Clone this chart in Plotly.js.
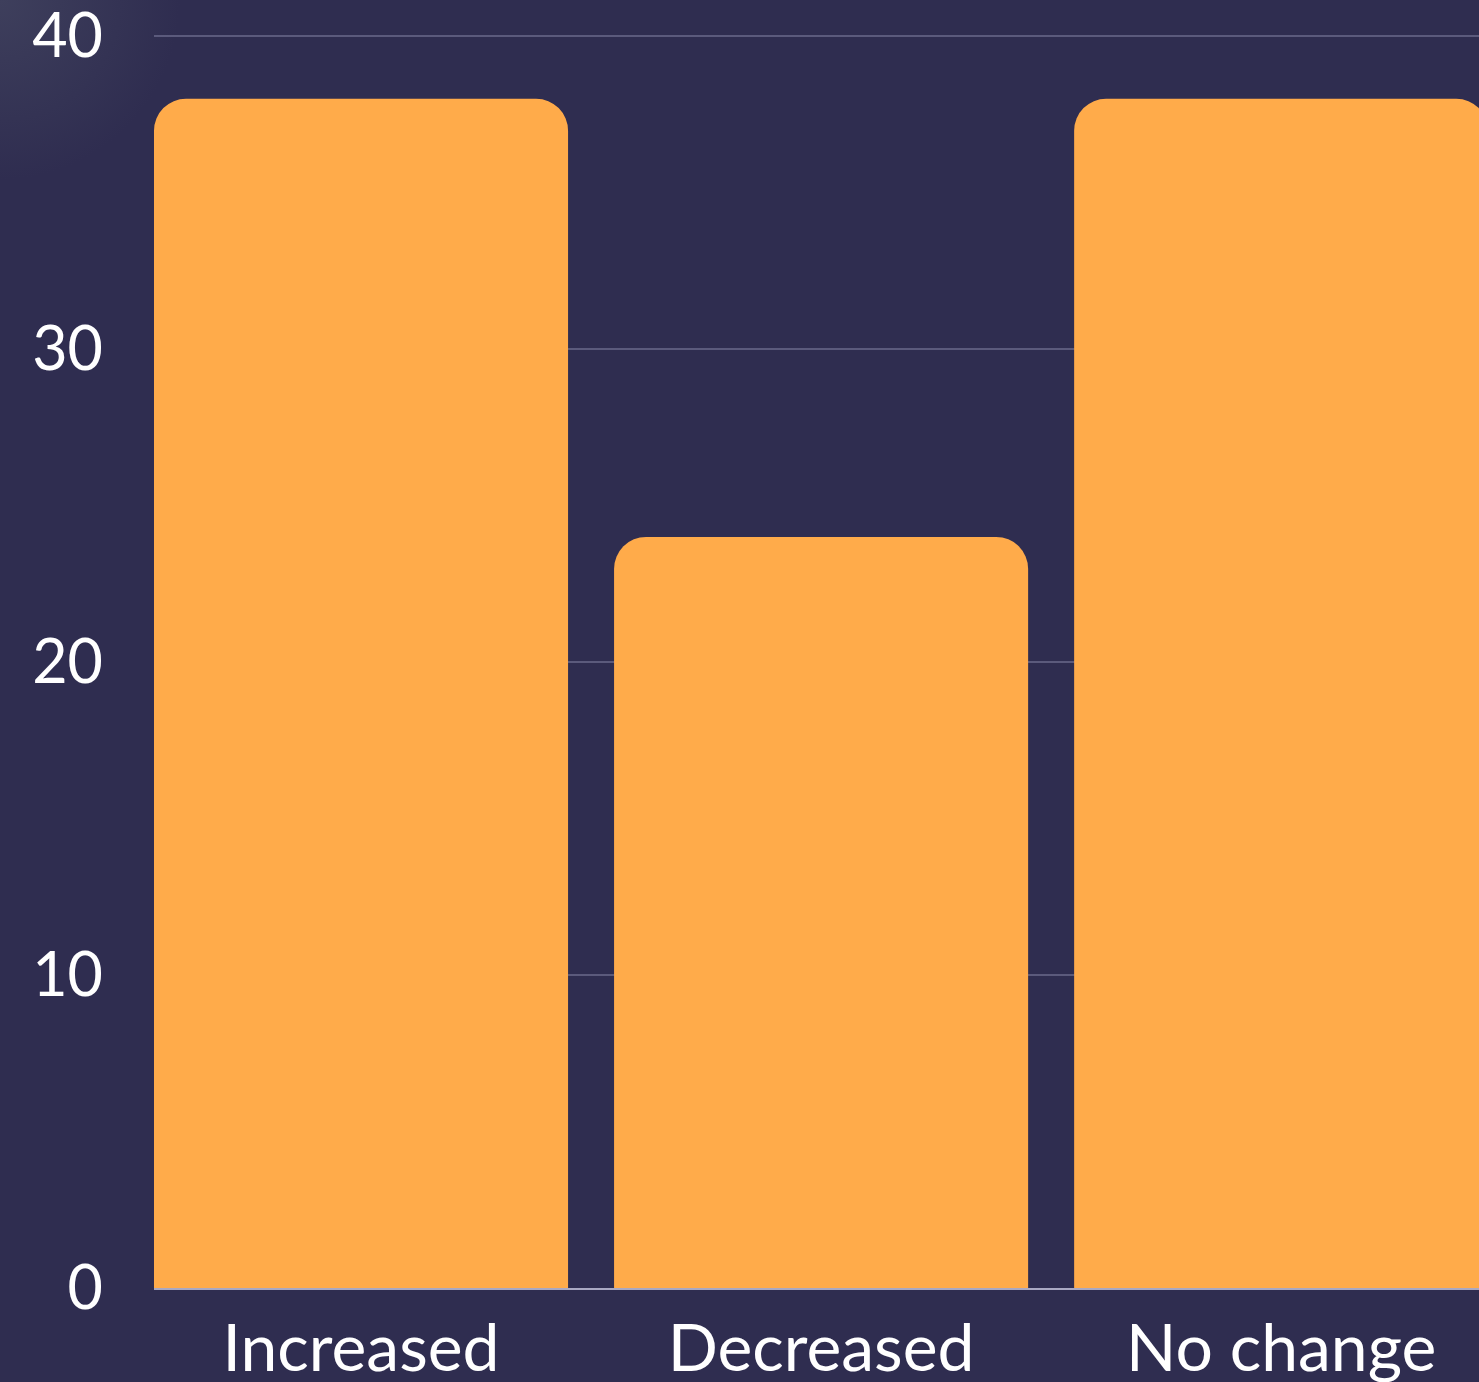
<!DOCTYPE html>
<html>
<head>
<meta charset="utf-8">
<script src="https://cdn.plot.ly/plotly-3.0.1.min.js"></script>
<style>
  html, body { margin: 0; padding: 0; }
  body {
    width: 1479px; height: 1382px; overflow: hidden;
    background: radial-gradient(circle at 0px 0px, #3e3f5c 0px, #2f2d50 180px, #2f2d50 100%);
  }
  #chart { width: 1479px; height: 1382px; }
</style>
</head>
<body>
<div id="chart"></div>
<script>
const categories = ["Increased", "Decreased", "No change"];
const values = [38, 24, 38];
const yTickValues = [0, 10, 20, 30, 40];
const yTickLabels = ["0", "10", "20", "30", "40"];

const fontFamily = "Lato, 'Noto Sans', sans-serif";

const trace = {
  type: "bar",
  x: categories,
  y: values,
  marker: { color: "#ffab4a", cornerradius: 32, line: { width: 0 } },
  hoverinfo: "none"
};

const layout = {
  width: 1479,
  height: 1382,
  margin: { l: 154, r: 0, t: 33, b: 94, pad: 0 },
  paper_bgcolor: "rgba(0,0,0,0)",
  plot_bgcolor: "rgba(0,0,0,0)",
  bargap: 0.1,
  showlegend: false,
  font: { family: fontFamily, color: "#ffffff" },
  xaxis: {
    type: "category",
    range: [-0.45, 2.43],
    showgrid: false,
    showline: true,
    linecolor: "#a9a8c2",
    linewidth: 2,
    ticks: "",
    ticklabelstandoff: 2,
    ticklabeloverflow: "allow",
    tickfont: { family: fontFamily, size: 66, color: "#ffffff" },
    fixedrange: true
  },
  yaxis: {
    range: [0, 40.1],
    tickvals: yTickValues,
    ticktext: yTickLabels,
    showgrid: true,
    gridcolor: "#5b5a7c",
    gridwidth: 1.5,
    zeroline: false,
    showline: false,
    ticks: "",
    ticklabelstandoff: 50,
    ticklabeloverflow: "allow",
    tickfont: { family: fontFamily, size: 61, color: "#ffffff" },
    fixedrange: true
  }
};

Plotly.newPlot("chart", [trace], layout, { displayModeBar: false, staticPlot: true });
</script>
</body>
</html>
